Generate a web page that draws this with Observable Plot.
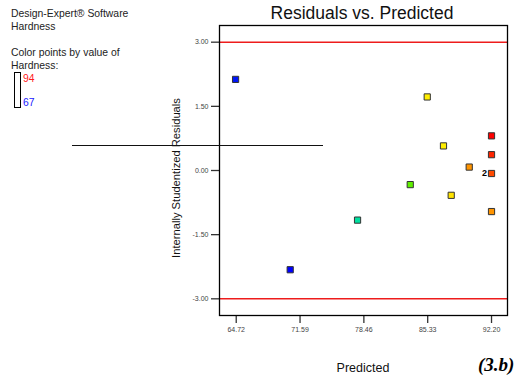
<!DOCTYPE html>
<html>
<head>
<meta charset="utf-8">
<script src="https://cdn.jsdelivr.net/npm/d3@7"></script>
<script src="https://cdn.jsdelivr.net/npm/@observablehq/plot@0.6"></script>
<style>
  html, body { margin: 0; padding: 0; background: #fff; }
  #wrap { position: relative; width: 531px; height: 383px; overflow: hidden; font-family: "Liberation Sans", Arial, sans-serif; }
  #wrap svg { position: absolute; left: 0; top: 0; }
  .t { position: absolute; white-space: nowrap; color: #222; }
</style>
</head>
<body>
<div id="wrap"></div>
<script>
// Data
const predicted = [64.65, 70.53, 77.78, 83.45, 85.28, 87.03, 87.86, 89.80, 92.20, 92.20, 92.20, 92.20];
const residuals = [2.13, -2.32, -1.16, -0.33, 1.72, 0.575, -0.58, 0.08, -0.96, -0.07, 0.37, 0.81];
const hardness  = [68, 67, 77, 82, 86, 86, 86.5, 90, 90, 92, 93, 94];
const pointLabels = ["", "", "", "", "", "", "", "", "", "2", "", ""];
const xTicks = [64.72, 71.59, 78.46, 85.33, 92.20];
const yTicks = [-3.00, -1.50, 0.00, 1.50, 3.00];
const limits = [-3.00, 3.00];

const data = predicted.map((p, i) => ({pred: p, resid: residuals[i], hard: hardness[i], label: pointLabels[i]}));
const fmt = d => d.toFixed(2);

const chart = Plot.plot({
  width: 531, height: 383,
  marginLeft: 219, marginRight: 24, marginTop: 25, marginBottom: 68,
  style: {fontFamily: "'Liberation Sans', Arial, sans-serif", fontSize: "7px", background: "transparent", color: "#444"},
  x: {domain: [62.92, 93.92]},
  y: {domain: [-3.39, 3.39]},
  color: {type: "linear", domain: [67, 77, 82, 86, 90, 94],
          range: ["#0000ff", "#00e0a0", "#5ff000", "#ffee00", "#ff9400", "#ff0000"]},
  marks: [
    Plot.axisX({ticks: xTicks, tickFormat: fmt, tickSize: 8, tickPadding: 4, label: null, stroke: "#333", strokeWidth: 1.3}),
    Plot.axisY({ticks: yTicks, tickFormat: fmt, tickSize: 8, tickPadding: 3, label: null, stroke: "#333", strokeWidth: 1.3}),
    Plot.ruleY(limits, {stroke: "#ee1c1c", strokeWidth: 1.6}),
    Plot.frame({stroke: "#000", strokeWidth: 1.3}),
    Plot.dot(data, {x: "pred", y: "resid", symbol: "square", r: 3.5, fill: "hard", stroke: "#333", strokeWidth: 1}),
    Plot.text(data, {x: "pred", y: "resid", text: "label", dx: -7, fontSize: 9, fontWeight: "bold", fill: "#000"})
  ]
});
const wrap = document.getElementById("wrap");
wrap.appendChild(chart);

function addText(html, css) {
  const d = document.createElement("div");
  d.className = "t";
  d.innerHTML = html;
  Object.assign(d.style, css);
  wrap.appendChild(d);
  return d;
}
addText("Residuals vs. Predicted", {left: "0px", width: "724px", textAlign: "center", top: "3px", fontSize: "17.5px", color: "#111"});
addText("Design-Expert® Software", {left: "11px", top: "8px", fontSize: "10.4px"});
addText("Hardness", {left: "11px", top: "21px", fontSize: "10.4px"});
addText("Color points by value of", {left: "11px", top: "47px", fontSize: "10.4px"});
addText("Hardness:", {left: "11px", top: "60px", fontSize: "10.4px"});
addText("94", {left: "23px", top: "73px", fontSize: "10.4px", color: "#ff1a1a"});
addText("67", {left: "23px", top: "97px", fontSize: "10.4px", color: "#2020ff"});
addText("Predicted", {left: "0px", width: "726px", textAlign: "center", top: "361px", fontSize: "12.5px", color: "#111"});
addText("<i><b>(3.b)</b></i>", {left: "478px", top: "354px", fontSize: "19px", fontFamily: "'Liberation Serif', 'Times New Roman', serif", color: "#000"});
addText("Internally Studentized Residuals", {left: "176px", top: "178px", fontSize: "11.2px", color: "#111", transform: "translate(-50%, -50%) rotate(-90deg)"});

// legend swatch box
const box = document.createElement("div");
Object.assign(box.style, {position: "absolute", left: "14px", top: "72px", width: "5px", height: "34px", border: "1.3px solid #000"});
wrap.appendChild(box);
// stray horizontal line present in the reference
const line = document.createElement("div");
Object.assign(line.style, {position: "absolute", left: "72px", top: "145px", width: "251px", height: "1.3px", background: "#111"});
wrap.appendChild(line);
</script>
</body>
</html>
